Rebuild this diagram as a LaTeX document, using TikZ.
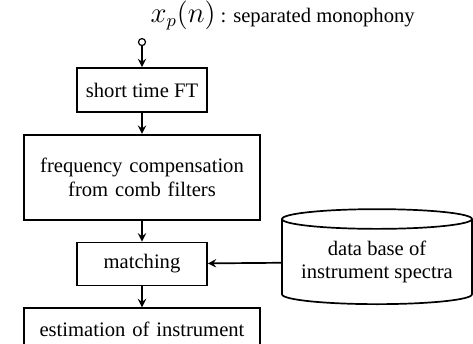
\documentclass[tikz,border=0pt]{standalone}
\usepackage{fontspec}
\setmainfont{Liberation Serif}
\usetikzlibrary{shapes,arrows,positioning}
\newcommand\blockfont{\fontsize{10.3}{11.8}\selectfont}
\newcommand\signalfont{\fontsize{13.5}{15}\selectfont}
\tikzstyle{arrow} = [->,>=stealth]
\tikzstyle{block} = [rectangle, draw, inner sep=0pt, text centered, 
minimum width=65pt, minimum height=21.5pt]
\tikzstyle{wideblock} = [block, text width=118pt, minimum width=118pt]
\tikzstyle{database} = [cylinder, shape border rotate=90, draw, inner sep=0pt, 
shape aspect=0.13, minimum width=95pt, minimum height=47.5pt, align=center]

\begin{document}
\begin{tikzpicture}[x=0.5pt, y=-0.5pt, node distance=10.5pt, font=\blockfont, line width=0.85pt]
	\clip (0,0) rectangle (473,344);
	% Place nodes
	\node (stft) [block, minimum height=22pt] at (142,90) {short time FT};
	\node (compensation) [wideblock, minimum height=42.5pt, below=of stft] {frequency compensation\\from comb filters};
	\node (matching) [block, below=of compensation] {matching};
	\node (estimation) [wideblock, below=of matching] {estimation of instrument};
	\node (input) [circle, draw, line width=0.6pt, inner sep=0pt, minimum size=3.5pt, above=of stft] {};
	\node (title) [anchor=base west] at (143,22) {{\signalfont$x_p(n)$} : separated monophony};
	\node (spectra) [database] at (377,262) {data base of\\instrument spectra};
	
	% Connect nodes
	\draw [arrow] (input) -- (stft);
	\draw [arrow] (stft) -- (compensation);
	\draw [arrow] (compensation) -- (matching);
	\draw [arrow] (matching) -- (estimation);
	\draw [arrow] (spectra) -- (matching);
\end{tikzpicture}
\end{document}
